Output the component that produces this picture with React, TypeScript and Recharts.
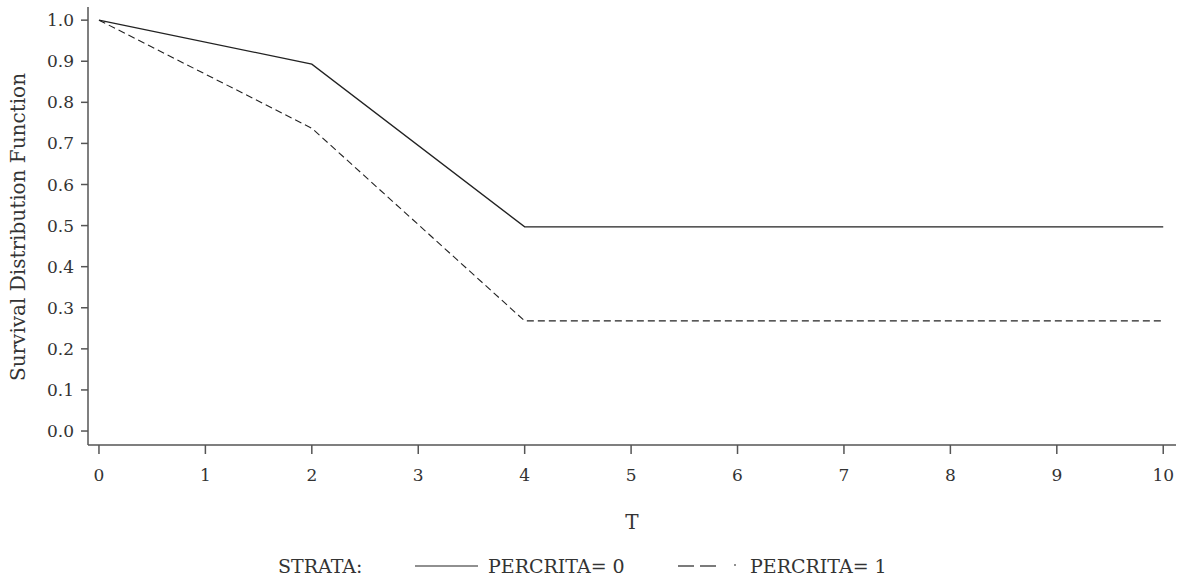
import { LineChart, Line, XAxis, YAxis } from 'recharts'

const times = [0, 2, 4, 10]
const strata0 = [1.0, 0.893, 0.497, 0.497]
const strata1 = [1.0, 0.737, 0.268, 0.268]
const xTicks = [0, 1, 2, 3, 4, 5, 6, 7, 8, 9, 10]
const yTicks = [0, 0.1, 0.2, 0.3, 0.4, 0.5, 0.6, 0.7, 0.8, 0.9, 1.0]

const data = times.map((t, i) => ({ t, s0: strata0[i], s1: strata1[i] }))

const FONT = '"DejaVu Serif", serif'
const INK = '#333'

export default function App() {
  return (
    <div style={{ position: 'absolute', left: 0, top: 0, width: 1184, height: 585, background: '#fff', fontFamily: FONT }}>
      <LineChart width={1184} height={585} data={data} margin={{ top: 7, right: 8, bottom: 100, left: 0 }}>
        <XAxis
          dataKey="t"
          type="number"
          domain={[-0.103, 10.12]}
          ticks={xTicks}
          allowDataOverflow
          height={40}
          tickSize={9}
          tickMargin={15}
          stroke="#555"
          strokeWidth={1.5}
          tick={{ fontSize: 17, fill: INK, fontFamily: FONT }}
        />
        <YAxis
          type="number"
          domain={[-0.034, 1.032]}
          ticks={yTicks}
          allowDataOverflow
          width={88}
          tickSize={7}
          tickMargin={7}
          stroke="#555"
          strokeWidth={1.5}
          tickFormatter={(v: number) => v.toFixed(1)}
          tick={{ fontSize: 17, fill: INK, fontFamily: FONT }}
        />
        <Line dataKey="s0" type="linear" stroke="#222" strokeWidth={1.3} dot={false} isAnimationActive={false} />
        <Line dataKey="s1" type="linear" stroke="#222" strokeWidth={1.1} strokeDasharray="7 4" dot={false} isAnimationActive={false} />
      </LineChart>

      <div style={{ position: 'absolute', left: 18, top: 227, transform: 'translate(-50%, -50%) rotate(-90deg)', whiteSpace: 'nowrap', fontSize: 20, color: INK }}>
        Survival Distribution Function
      </div>

      <div style={{ position: 'absolute', left: 632, top: 522, transform: 'translate(-50%, -50%)', fontSize: 20, color: INK }}>T</div>

      <div style={{ position: 'absolute', left: 278, top: 566, transform: 'translateY(-50%)', fontSize: 19, color: INK, whiteSpace: 'nowrap' }}>STRATA:</div>
      <svg style={{ position: 'absolute', left: 410, top: 560 }} width={80} height={12}>
        <line x1={5} x2={68} y1={6} y2={6} stroke="#222" strokeWidth={1.2} />
      </svg>
      <div style={{ position: 'absolute', left: 488, top: 566, transform: 'translateY(-50%)', fontSize: 19, color: INK, whiteSpace: 'nowrap' }}>PERCRITA= 0</div>
      <svg style={{ position: 'absolute', left: 674, top: 560 }} width={80} height={12}>
        <line x1={4} x2={20} y1={6} y2={6} stroke="#222" strokeWidth={1.2} />
        <line x1={26} x2={42} y1={6} y2={6} stroke="#222" strokeWidth={1.2} />
        <line x1={60} x2={62} y1={5} y2={5} stroke="#222" strokeWidth={1.2} />
      </svg>
      <div style={{ position: 'absolute', left: 750, top: 566, transform: 'translateY(-50%)', fontSize: 19, color: INK, whiteSpace: 'nowrap' }}>PERCRITA= 1</div>
    </div>
  )
}
